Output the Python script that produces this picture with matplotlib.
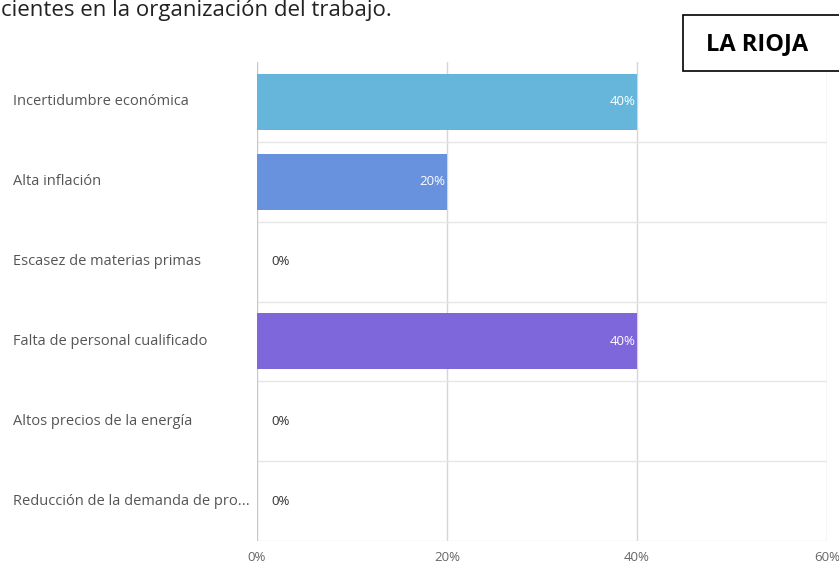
import matplotlib.pyplot as plt
import matplotlib.patches as mpatches
from matplotlib.transforms import blended_transform_factory

# data
categories = ['Incertidumbre económica', 'Alta inflación', 'Escasez de materias primas',
              'Falta de personal cualificado', 'Altos precios de la energía',
              'Reducción de la demanda de pro...']
values = [40, 20, 0, 40, 0, 0]
bar_colors = ['#66B6DC', '#6892DD', '#66B6DC', '#7E67DB', '#66B6DC', '#66B6DC']
xticks = [0, 20, 40, 60]

plt.rcParams['font.family'] = ['Open Sans', 'DejaVu Sans']

W, H = 839, 563
fig = plt.figure(figsize=(W / 100, H / 100), dpi=100)
# axes box in pixels: left 257, right 827, top 62, bottom 541
ax = fig.add_axes([257 / W, 1 - 541 / H, (827 - 257) / W, (541 - 62) / H])

y = list(range(len(categories)))
ax.barh(y, values, height=0.7, color=bar_colors, zorder=3)
ax.set_xlim(0, 60)
ax.set_ylim(len(categories) - 0.5, -0.5)

# value labels
for yi, v in zip(y, values):
    if v > 0:
        ax.text(v - 0.2, yi, f'{v}%', ha='right', va='center', color='white',
                fontsize=9.5, zorder=4)
    else:
        ax.text(1.5, yi, f'{v}%', ha='left', va='center', color='#333333',
                fontsize=9.5, zorder=4)

# grid: vertical at ticks, horizontal between rows
for xt in xticks[1:]:
    ax.axvline(xt, color='#d6d6d6', lw=1, zorder=1)
for b in [i + 0.5 for i in range(len(categories))]:
    ax.axhline(b, color='#e6e6e6', lw=1, zorder=1)
ax.axvline(0, color='#c8c8c8', lw=1, zorder=2)

for s in ax.spines.values():
    s.set_visible(False)

ax.set_xticks(xticks)
ax.set_xticklabels([f'{t}%' for t in xticks], color='#666666', fontsize=9.5)
ax.tick_params(axis='x', length=0, pad=7)
ax.set_yticks([])

# category labels, left aligned at the figure edge
trans = blended_transform_factory(fig.transFigure, ax.transData)
for yi, c in zip(y, categories):
    ax.text(13 / W, yi, c, transform=trans, ha='left', va='center',
            color='#555555', fontsize=10.5, clip_on=False)

# title text at the very top (cropped in the source screenshot)
fig.text(1 / W, 1 - 16 / H, 'cientes en la organización del trabajo.', fontsize=16,
         color='#222222', ha='left', va='baseline')

# "LA RIOJA" box
box = mpatches.Rectangle((683 / W, 1 - 71 / H), (845 - 683) / W, (71 - 15) / H,
                         transform=fig.transFigure, facecolor='white',
                         edgecolor='black', lw=1.2, zorder=5)
fig.patches.append(box)
fig.text(757 / W, 1 - 44 / H, 'LA RIOJA', fontsize=17, fontweight='bold',
         ha='center', va='center', color='black', zorder=6)

fig.savefig('out.png', dpi=100)
